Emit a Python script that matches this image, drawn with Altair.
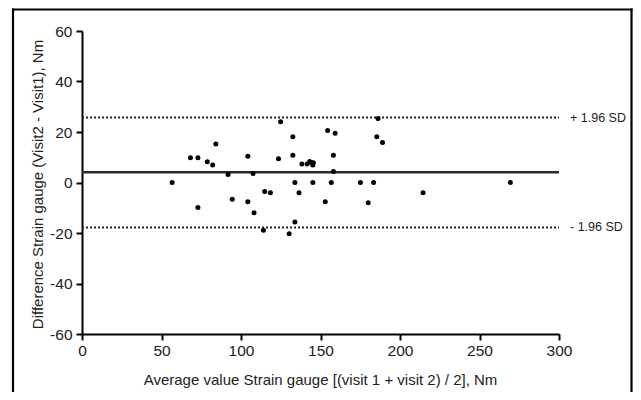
import altair as alt
import pandas as pd

# Bland-Altman data
avg = [56.7, 68.2, 72.9, 72.9, 78.8, 82.2, 84.2, 91.9, 94.5, 104.3, 104.3, 107.6,
       108.2, 114.1, 114.9, 118.5, 123.6, 124.9, 130.3, 132.6, 132.6, 133.9, 133.9,
       136.5, 138.3, 141.6, 143.2, 144.5, 145.2, 145.5, 145.2, 153.0, 154.5, 156.8,
       158.1, 158.1, 159.2, 175.1, 180.0, 183.4, 185.4, 186.2, 189.0, 214.5, 269.4]
diff = [0, 9.8, 9.8, -9.9, 8.2, 6.9, 15.2, 3.2, -6.6, 10.4, -7.6, 3.6,
        -12.0, -18.9, -3.6, -4.1, 9.4, 24.1, -20.3, 18.1, 10.8, 0, -15.6,
        -4.1, 7.3, 7.3, 8.3, 7.8, 6.9, 7.8, 0, -7.6, 20.6, 0,
        10.8, 4.4, 19.5, 0, -8.0, 0, 18.1, 25.3, 15.8, -4.1, 0]

mean_diff = 4.1
limit_names = ["+ 1.96 SD", "- 1.96 SD"]
limit_values = [25.7, -17.8]

x_ticks = [0, 50, 100, 150, 200, 250, 300]
y_ticks = [-60, -40, -20, 0, 20, 40, 60]

FONT = "Liberation Sans"
W, H = 477, 303

pts = pd.DataFrame({"avg": avg, "diff": diff})
limits = pd.DataFrame({"name": limit_names, "y": limit_values, "x0": 0, "x1": 300})
meanline = pd.DataFrame({"y": [mean_diff], "x0": [0], "x1": [300]})

xs = alt.Scale(domain=[0, 300], nice=False)
ys = alt.Scale(domain=[-60, 60], nice=False)

one = pd.DataFrame({"a": [1]})
frame_style = dict(color="black", strokeWidth=2.2)
frame_left = alt.Chart(one).mark_rule(**frame_style).encode(
    x=alt.value(-69), y=alt.value(-22.6), y2=alt.value(361))
frame_right = alt.Chart(one).mark_rule(**frame_style).encode(
    x=alt.value(549.5), y=alt.value(-22.6), y2=alt.value(361))
frame_top = alt.Chart(one).mark_rule(**frame_style).encode(
    x=alt.value(-70), x2=alt.value(550.6), y=alt.value(-21.5))

points = alt.Chart(pts).mark_circle(size=25, color="black", opacity=1).encode(
    x=alt.X("avg:Q", scale=xs,
            axis=alt.Axis(values=x_ticks, title="Average value Strain gauge [(visit 1 + visit 2) / 2], Nm",
                          titleX=238, titleY=45, titleBaseline="middle")),
    y=alt.Y("diff:Q", scale=ys,
            axis=alt.Axis(values=y_ticks, labelExpr="datum.value + ''",
                          title="Difference Strain gauge (Visit2 - Visit1), Nm",
                          titleX=-45, titleY=153, titleBaseline="middle")),
)

mean_rule = alt.Chart(meanline).mark_rule(color="#2a2a2a", strokeWidth=2.5).encode(
    x=alt.X("x0:Q", scale=xs), x2="x1:Q", y=alt.Y("y:Q", scale=ys)
)

limit_rules = alt.Chart(limits).mark_rule(color="#222", strokeWidth=2, strokeDash=[2, 2]).encode(
    x=alt.X("x0:Q", scale=xs), x2="x1:Q", y=alt.Y("y:Q", scale=ys)
)

limit_text = alt.Chart(limits).mark_text(
    align="left", baseline="middle", dx=11, font=FONT, fontSize=12.5, color="#222"
).encode(
    x=alt.X("x1:Q", scale=xs), y=alt.Y("y:Q", scale=ys), text="name:N"
)

chart = alt.layer(frame_left, frame_right, frame_top, limit_rules, mean_rule, points, limit_text).properties(
    width=W, height=H,
    autosize=alt.AutoSizeParams(type="none"),
    padding={"left": 74, "top": 23, "right": 74, "bottom": 58},
).configure_view(stroke=None).configure_axis(
    grid=False, labelFlush=False,
    domainColor="black", domainWidth=2,
    tickColor="black", tickWidth=2, tickSize=6,
    labelFont=FONT, labelFontSize=15.5, labelColor="#222",
    titleFont=FONT, titleFontSize=15, titleColor="#222", titleFontWeight="normal",
).configure_axisX(labelPadding=3).configure_axisY(labelPadding=4)

chart.save("out.html", embed_options={"renderer": "svg", "actions": False})
